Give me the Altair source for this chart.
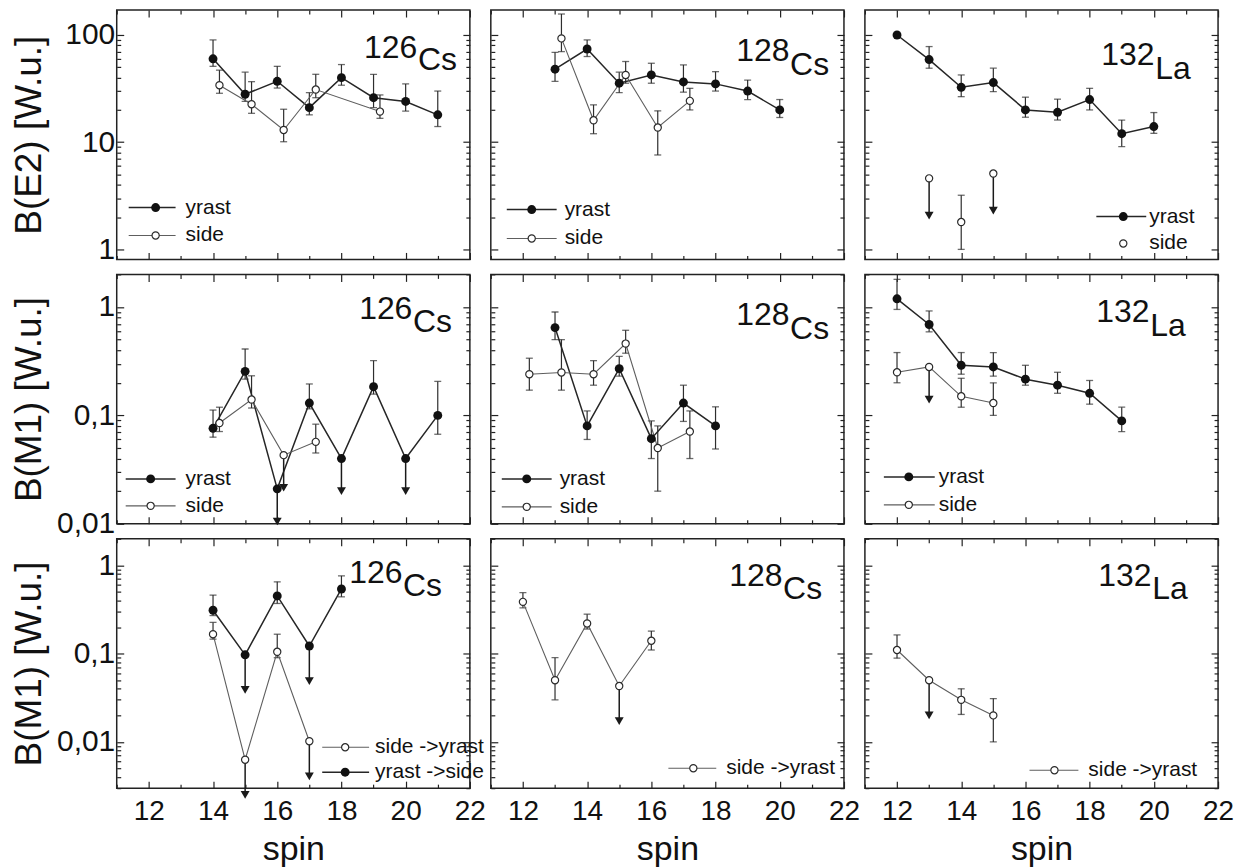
import altair as alt
import pandas as pd

FONT = "Liberation Sans"

# ---------------- data ----------------
# Row 1 : B(E2)
cs126_e2_yrast_spin = [14, 15, 16, 17, 18, 19, 20, 21]
cs126_e2_yrast_val = [60, 28, 37, 21, 40, 26, 24, 18]
cs126_e2_yrast_lo = [51, 24, 32, 18, 34, 21, 19.5, 14]
cs126_e2_yrast_hi = [90, 45, 51, 29, 53, 43, 35, 30]
cs126_e2_side_spin = [14.2, 15.2, 16.2, 17.2, 19.2]
cs126_e2_side_val = [34, 22.6, 13, 31, 19.3]
cs126_e2_side_lo = [28.6, 18.6, 10.1, 26, 16.7]
cs126_e2_side_hi = [47, 36.7, 20.3, 43, 27.6]

cs128_e2_yrast_spin = [13, 14, 15, 16, 17, 18, 19, 20]
cs128_e2_yrast_val = [48, 74, 35.5, 42.4, 36.5, 35, 30, 20]
cs128_e2_yrast_lo = [37, 63, 29, 35.5, 29.3, 30, 25, 17]
cs128_e2_yrast_hi = [69, 90, 45, 54.5, 52.6, 45.5, 38, 25]
cs128_e2_side_spin = [13.2, 14.2, 15.2, 16.2, 17.2]
cs128_e2_side_val = [93, 16, 42.4, 13.7, 24.3]
cs128_e2_side_lo = [70, 12, 35.5, 7.6, 20]
cs128_e2_side_hi = [157, 22.3, 56.6, 19.6, 31.8]

la132_e2_yrast_spin = [12, 13, 14, 15, 16, 17, 18, 19, 20]
la132_e2_yrast_val = [100, 59, 32.5, 36, 20, 19, 25, 12, 14]
la132_e2_yrast_lo = [None, 49, 26.6, 29.6, 17.1, 16.1, 20, 9.1, 12.1]
la132_e2_yrast_hi = [None, 78, 42.4, 49, 26.3, 25.2, 31.8, 16.1, 18.9]
la132_e2_side_spin = [13, 14, 15]
la132_e2_side_val = [4.6, 1.8, 5.1]
la132_e2_side_lo = [None, 1.0, None]
la132_e2_side_hi = [None, 3.2, None]
la132_e2_side_lim = [True, False, True]

# Row 2 : B(M1)
cs126_m1_yrast_spin = [14, 15, 16, 17, 18, 19, 20, 21]
cs126_m1_yrast_val = [0.076, 0.255, 0.021, 0.13, 0.04, 0.184, 0.04, 0.10]
cs126_m1_yrast_lo = [0.063, 0.216, None, 0.115, None, 0.157, None, 0.067]
cs126_m1_yrast_hi = [0.112, 0.41, None, 0.195, None, 0.32, None, 0.206]
cs126_m1_yrast_lim = [False, False, True, False, True, False, True, False]
cs126_m1_side_spin = [14.2, 15.2, 16.2, 17.2]
cs126_m1_side_val = [0.085, 0.14, 0.043, 0.057]
cs126_m1_side_lo = [0.071, 0.117, None, 0.045]
cs126_m1_side_hi = [0.119, 0.232, None, 0.083]
cs126_m1_side_lim = [False, False, True, False]

cs128_m1_yrast_spin = [13, 14, 15, 16, 17, 18]
cs128_m1_yrast_val = [0.646, 0.080, 0.27, 0.061, 0.13, 0.08]
cs128_m1_yrast_lo = [0.5, 0.06, 0.23, 0.04, 0.088, 0.049]
cs128_m1_yrast_hi = [0.9, 0.11, 0.35, 0.089, 0.19, 0.12]
cs128_m1_side_spin = [12.2, 13.2, 14.2, 15.2, 16.2, 17.2]
cs128_m1_side_val = [0.24, 0.249, 0.24, 0.46, 0.05, 0.071]
cs128_m1_side_lo = [0.171, 0.171, 0.19, 0.375, 0.02, 0.04]
cs128_m1_side_hi = [0.337, 0.5, 0.32, 0.61, 0.08, 0.11]

la132_m1_yrast_spin = [12, 13, 14, 15, 16, 17, 18, 19]
la132_m1_yrast_val = [1.19, 0.69, 0.29, 0.28, 0.216, 0.19, 0.16, 0.089]
la132_m1_yrast_lo = [0.95, 0.59, 0.24, 0.23, 0.19, 0.16, 0.127, 0.071]
la132_m1_yrast_hi = [1.8, 0.92, 0.38, 0.38, 0.29, 0.25, 0.21, 0.119]
la132_m1_side_spin = [12, 13, 14, 15]
la132_m1_side_val = [0.25, 0.28, 0.15, 0.13]
la132_m1_side_lo = [0.2, None, 0.119, 0.1]
la132_m1_side_hi = [0.38, None, 0.22, 0.2]
la132_m1_side_lim = [False, True, False, False]

# Row 3 : B(M1) inter-band
cs126_ys_spin = [14, 15, 16, 17, 18]
cs126_ys_val = [0.31, 0.097, 0.45, 0.122, 0.54]
cs126_ys_lo = [0.27, None, 0.37, None, 0.44]
cs126_ys_hi = [0.46, None, 0.65, None, 0.76]
cs126_ys_lim = [False, True, False, True, False]
cs126_sy_spin = [14, 15, 16, 17]
cs126_sy_val = [0.166, 0.0063, 0.105, 0.0102]
cs126_sy_lo = [0.146, None, 0.09, None]
cs126_sy_hi = [0.226, None, 0.166, None]
cs126_sy_lim = [False, True, False, True]

cs128_sy_spin = [12, 13, 14, 15, 16]
cs128_sy_val = [0.386, 0.05, 0.22, 0.043, 0.14]
cs128_sy_lo = [0.33, 0.03, 0.19, None, 0.11]
cs128_sy_hi = [0.49, 0.09, 0.28, None, 0.18]
cs128_sy_lim = [False, False, False, True, False]

la132_sy_spin = [12, 13, 14, 15]
la132_sy_val = [0.11, 0.05, 0.03, 0.02]
la132_sy_lo = [0.089, None, 0.0205, 0.01]
la132_sy_hi = [0.163, None, 0.04, 0.031]
la132_sy_lim = [False, True, False, False]

row_titles = ["B(E2) [W.u.]", "B(M1) [W.u.]", "B(M1) [W.u.]"]
x_ticks_major = [12, 14, 16, 18, 20, 22]
x_ticks_minor = [11, 13, 15, 17, 19, 21]

# ---------------- styling / layout ----------------
W = 354
H = 250
ROW_DOMAIN = [[0.806, 171], [0.01, 2.0], [0.003, 2.0]]
ARROW_FACTOR = [0.45, 0.5, 0.40]
DARK = "#1a1a1a"
LINE_Y = "#262626"
LINE_S = "#5e5e5e"
ERR = "#2e2e2e"
FILLED_SIZE = 80
OPEN_SIZE = 52


def log_ticks(lo_exp, hi_exp, lo_val, hi_val):
    major, minor = [], []
    for e in range(lo_exp, hi_exp + 1):
        base = 10.0 ** e
        for k in range(1, 10):
            v = round(k * base, 8)
            if v < lo_val * 0.999 or v > hi_val * 1.001:
                continue
            (major if k == 1 else minor).append(v)
    return major, minor


def lab_expr(row):
    if row == 0:
        return "datum.value == 1 ? '1' : datum.value == 10 ? '10' : datum.value == 100 ? '100' : ''"
    return "datum.value == 1 ? '1' : datum.value == 0.1 ? '0,1' : datum.value == 0.01 ? '0,01' : ''"


def series(name, spin, val, lo, hi, lim=None, kind="yrast", line=True):
    n = len(spin)
    return dict(name=name, spin=spin, val=val, lo=lo, hi=hi,
                lim=lim if lim is not None else [False] * n, kind=kind, line=line)


def filled_mark(data):
    return alt.Chart(data).mark_point(shape="circle", filled=True, color="#111111",
                                      size=FILLED_SIZE, opacity=1)


def open_mark(data):
    return alt.Chart(data).mark_point(shape="circle", filled=True, fill="white",
                                      stroke="#2a2a2a", strokeWidth=1.2, size=OPEN_SIZE, opacity=1)


def make_panel(row, col, sers, num, el, lab_pos, legend):
    ysc = alt.Scale(type="log", domain=ROW_DOMAIN[row], nice=False)
    xsc = alt.Scale(domain=[11, 22], nice=False)
    recs = []
    for s in sers:
        for i in range(len(s["spin"])):
            v = s["val"][i]
            recs.append(dict(series=s["name"], spin=s["spin"][i], val=v,
                             lo=s["lo"][i], hi=s["hi"][i], lim=s["lim"][i],
                             end=v * ARROW_FACTOR[row]))
    df = pd.DataFrame(recs)
    xn = alt.X("spin:Q", scale=xsc, axis=None)

    layers = []
    ymaj, ymin = {
        0: log_ticks(0, 2, ROW_DOMAIN[0][0], ROW_DOMAIN[0][1]),
        1: log_ticks(-2, 0, ROW_DOMAIN[1][0], ROW_DOMAIN[1][1]),
        2: log_ticks(-3, 0, ROW_DOMAIN[2][0], ROW_DOMAIN[2][1]),
    }[row]
    bottom = row == 2
    left = col == 0
    ax_x_main = alt.Axis(orient="bottom", values=x_ticks_major, tickSize=7, offset=-7,
                         labels=bottom, labelPadding=9, title="spin" if bottom else None,
                         titlePadding=8, labelFlush=False)
    ax_y_main = alt.Axis(orient="left", values=ymaj, tickSize=7, offset=-7,
                         labels=left, labelExpr=lab_expr(row), labelPadding=2,
                         title=row_titles[row] if left else None,
                         titlePadding=(16 if row == 0 else 8))
    layers.append(alt.Chart(df).mark_point(opacity=0).encode(
        x=alt.X("spin:Q", scale=xsc, axis=ax_x_main),
        y=alt.Y("val:Q", scale=ysc, axis=ax_y_main)))
    layers.append(alt.Chart(df).mark_point(opacity=0).encode(
        x=alt.X("spin:Q", scale=xsc, axis=alt.Axis(orient="top", values=x_ticks_major, tickSize=7,
                                                   offset=-7, labels=False, title=None)),
        y=alt.Y("val:Q", scale=ysc, axis=alt.Axis(orient="right", values=ymaj, tickSize=7,
                                                  offset=-7, labels=False, title=None))))
    layers.append(alt.Chart(df).mark_point(opacity=0).encode(
        x=alt.X("spin:Q", scale=xsc, axis=alt.Axis(orient="bottom", values=x_ticks_minor, tickSize=4,
                                                   offset=-4, labels=False, title=None)),
        y=alt.Y("val:Q", scale=ysc, axis=alt.Axis(orient="left", values=ymin, tickSize=4,
                                                  offset=-4, labels=False, title=None))))
    layers.append(alt.Chart(df).mark_point(opacity=0).encode(
        x=alt.X("spin:Q", scale=xsc, axis=alt.Axis(orient="top", values=x_ticks_minor, tickSize=4,
                                                   offset=-4, labels=False, title=None)),
        y=alt.Y("val:Q", scale=ysc, axis=alt.Axis(orient="right", values=ymin, tickSize=4,
                                                  offset=-4, labels=False, title=None))))

    # ---- error bars ----
    edf = df[df["lo"].notna()]
    if len(edf):
        layers.append(alt.Chart(edf).mark_rule(color=ERR, strokeWidth=1.2).encode(
            x=xn, y=alt.Y("lo:Q", scale=ysc, axis=None), y2="hi:Q"))
        for fld in ("lo", "hi"):
            layers.append(alt.Chart(edf).mark_tick(orient="horizontal", size=7, thickness=1.3,
                                                   color=ERR).encode(
                x=xn, y=alt.Y(f"{fld}:Q", scale=ysc, axis=None)))
    # ---- connecting lines ----
    for s in sers:
        if not s["line"]:
            continue
        sd = df[df["series"] == s["name"]]
        if s["kind"] == "yrast":
            mk = alt.Chart(sd).mark_line(color=LINE_Y, strokeWidth=1.5)
        else:
            mk = alt.Chart(sd).mark_line(color=LINE_S, strokeWidth=1.1)
        layers.append(mk.encode(x=xn, y=alt.Y("val:Q", scale=ysc, axis=None), order="spin:Q"))
    # ---- upper-limit arrows ----
    adf = df[df["lim"]]
    if len(adf):
        layers.append(alt.Chart(adf).mark_rule(color=DARK, strokeWidth=1.5).encode(
            x=xn, y=alt.Y("val:Q", scale=ysc, axis=None), y2="end:Q"))
        layers.append(alt.Chart(adf).mark_point(shape="triangle-down", filled=True, color=DARK,
                                                size=80, opacity=1).encode(
            x=xn, y=alt.Y("end:Q", scale=ysc, axis=None)))
    # ---- points ----
    for s in sers:
        sd = df[df["series"] == s["name"]]
        mk = filled_mark(sd) if s["kind"] == "yrast" else open_mark(sd)
        layers.append(mk.encode(x=xn, y=alt.Y("val:Q", scale=ysc, axis=None)))

    # ---- nucleus label ----
    dummy = pd.DataFrame({"d": [0]})
    lx, ly1, ly2 = lab_pos
    layers.append(alt.Chart(dummy).mark_text(font=FONT, fontSize=32, align="left",
                                             baseline="alphabetic", color="#111").encode(
        x=alt.value(lx), y=alt.value(ly1), text=alt.value(num)))
    layers.append(alt.Chart(dummy).mark_text(font=FONT, fontSize=32, align="left",
                                             baseline="alphabetic", color="#111").encode(
        x=alt.value(lx + 54), y=alt.value(ly2), text=alt.value(el)))

    # ---- legend ----
    x1, x2, xd, xt, entries = legend
    for (txt, kind, yy, with_line) in entries:
        if with_line:
            layers.append(alt.Chart(dummy).mark_rule(
                color=LINE_Y if kind == "yrast" else LINE_S,
                strokeWidth=1.5 if kind == "yrast" else 1.1).encode(
                x=alt.value(x1), x2=alt.value(x2), y=alt.value(yy)))
        pm = filled_mark(dummy) if kind == "yrast" else open_mark(dummy)
        layers.append(pm.encode(x=alt.value(xd), y=alt.value(yy)))
        layers.append(alt.Chart(dummy).mark_text(font=FONT, fontSize=21, align="left",
                                                 baseline="middle", color="#111").encode(
            x=alt.value(xt), y=alt.value(yy), text=alt.value(txt)))

    return alt.layer(*layers).resolve_axis(x="independent", y="independent").properties(
        width=W, height=H)


def leg_std(x1, x2, xd, xt, y1, y2):
    return (x1, x2, xd, xt, [("yrast", "yrast", y1, True), ("side", "side", y2, True)])


p11 = make_panel(0, 0, [
    series("y", cs126_e2_yrast_spin, cs126_e2_yrast_val, cs126_e2_yrast_lo, cs126_e2_yrast_hi),
    series("s", cs126_e2_side_spin, cs126_e2_side_val, cs126_e2_side_lo, cs126_e2_side_hi, kind="side"),
], "126", "Cs", (248, 48, 60), leg_std(12, 59, 39, 69, 198, 226))

p12 = make_panel(0, 1, [
    series("y", cs128_e2_yrast_spin, cs128_e2_yrast_val, cs128_e2_yrast_lo, cs128_e2_yrast_hi),
    series("s", cs128_e2_side_spin, cs128_e2_side_val, cs128_e2_side_lo, cs128_e2_side_hi, kind="side"),
], "128", "Cs", (246, 51, 65), leg_std(16, 66, 41, 74, 200, 229))

p13 = make_panel(0, 2, [
    series("y", la132_e2_yrast_spin, la132_e2_yrast_val, la132_e2_yrast_lo, la132_e2_yrast_hi),
    series("s", la132_e2_side_spin, la132_e2_side_val, la132_e2_side_lo, la132_e2_side_hi,
           lim=la132_e2_side_lim, kind="side", line=False),
], "132", "La", (237, 55, 69),
    (232, 282, 259, 285, [("yrast", "yrast", 207, True), ("side", "side", 234, False)]))

p21 = make_panel(1, 0, [
    series("y", cs126_m1_yrast_spin, cs126_m1_yrast_val, cs126_m1_yrast_lo, cs126_m1_yrast_hi,
           lim=cs126_m1_yrast_lim),
    series("s", cs126_m1_side_spin, cs126_m1_side_val, cs126_m1_side_lo, cs126_m1_side_hi,
           lim=cs126_m1_side_lim, kind="side"),
], "126", "Cs", (243, 45, 58), leg_std(9, 59, 34, 69, 205, 232))

p22 = make_panel(1, 1, [
    series("y", cs128_m1_yrast_spin, cs128_m1_yrast_val, cs128_m1_yrast_lo, cs128_m1_yrast_hi),
    series("s", cs128_m1_side_spin, cs128_m1_side_val, cs128_m1_side_lo, cs128_m1_side_hi, kind="side"),
], "128", "Cs", (246, 51, 65), leg_std(11, 61, 36, 69, 205, 233))

p23 = make_panel(1, 2, [
    series("y", la132_m1_yrast_spin, la132_m1_yrast_val, la132_m1_yrast_lo, la132_m1_yrast_hi),
    series("s", la132_m1_side_spin, la132_m1_side_val, la132_m1_side_lo, la132_m1_side_hi,
           lim=la132_m1_side_lim, kind="side"),
], "132", "La", (232, 48, 62), leg_std(19, 70, 44, 74, 203, 231))

p31 = make_panel(2, 0, [
    series("s", cs126_sy_spin, cs126_sy_val, cs126_sy_lo, cs126_sy_hi, lim=cs126_sy_lim, kind="side"),
    series("y", cs126_ys_spin, cs126_ys_val, cs126_ys_lo, cs126_ys_hi, lim=cs126_ys_lim),
], "126", "Cs", (233, 44, 57),
    (206, 253, 229, 259, [("side ->yrast", "side", 209, True), ("yrast ->side", "yrast", 234, True)]))

p32 = make_panel(2, 1, [
    series("s", cs128_sy_spin, cs128_sy_val, cs128_sy_lo, cs128_sy_hi, lim=cs128_sy_lim, kind="side"),
], "128", "Cs", (239, 47, 60),
    (178, 226, 203, 236, [("side ->yrast", "side", 230, True)]))

p33 = make_panel(2, 2, [
    series("s", la132_sy_spin, la132_sy_val, la132_sy_lo, la132_sy_hi, lim=la132_sy_lim, kind="side"),
], "132", "La", (234, 47, 60),
    (165, 214, 190, 224, [("side ->yrast", "side", 232, True)]))

chart = alt.concat(p11, p12, p13, p21, p22, p23, p31, p32, p33, columns=3,
                   spacing={"row": 15, "column": 21}, bounds="flush").properties(
    padding={"left": 9, "top": 7, "right": 5, "bottom": 5},
    background="white",
).configure_axis(
    labelFont=FONT, titleFont=FONT, labelFontSize=28, titleFontSize=34,
    titleFontWeight="normal", labelColor="#111", titleColor="#111",
    tickColor="#222", tickWidth=1.2, domain=False, grid=False, minExtent=0,
).configure_axisX(
    labelFontSize=28, titleFontSize=34,
).configure_axisY(
    labelFontSize=30, titleFontSize=37,
).configure_view(stroke="#222", strokeWidth=1.5)

chart.save("out.html", embed_options={"renderer": "svg", "actions": False})
